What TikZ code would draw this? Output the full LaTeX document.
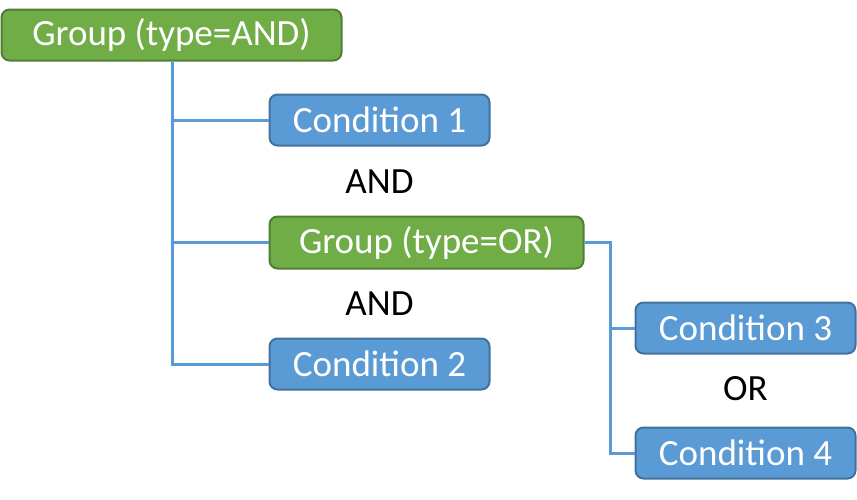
\documentclass[tikz,border=0pt]{standalone}
\usepackage{fontspec}
\setmainfont{Carlito}
\definecolor{gfill}{HTML}{70AD47}
\definecolor{gdraw}{HTML}{507E32}
\definecolor{bfill}{HTML}{5B9BD5}
\definecolor{bdraw}{HTML}{41719C}
\begin{document}
\begin{tikzpicture}[x=1pt,y=-1pt,
  box/.style={rectangle,rounded corners=8pt,line width=2pt,text=white,inner sep=0pt,
    font=\fontsize{37}{44}\selectfont},
  gbox/.style={box,fill=gfill,draw=gdraw},
  bbox/.style={box,fill=bfill,draw=bdraw},
  lbl/.style={font=\fontsize{37}{44}\selectfont,text=black,inner sep=0pt},
  conn/.style={draw=bfill,line width=3pt}]
\useasboundingbox (0,0) rectangle (857,499);
\node[gbox,minimum width=340pt,minimum height=51pt] (g1) at (171.5,35) {Group (type=AND)};
\node[bbox,minimum width=220pt,minimum height=51pt] (c1) at (379.5,120) {Condition 1};
\node[lbl] (and1) at (379.5,182) {AND};
\node[gbox,minimum width=314pt,minimum height=52pt] (g2) at (426.5,242.5) {Group (type=OR)};
\node[lbl] (and2) at (379.5,304) {AND};
\node[bbox,minimum width=220pt,minimum height=51pt] (c2) at (379.5,364) {Condition 2};
\node[bbox,minimum width=220pt,minimum height=51pt] (c3) at (745.5,328) {Condition 3};
\node[lbl] (or1) at (745.5,389) {OR};
\node[bbox,minimum width=220pt,minimum height=51pt] (c4) at (745.5,453) {Condition 4};
\coordinate (v1) at (172,0);
\coordinate (v2) at (610,0);
\draw[conn] (g1.south -| v1) |- (c2.west);
\draw[conn] (c1.west) -- (c1.west -| v1);
\draw[conn] (g2.west) -- (g2.west -| v1);
\draw[conn] (g2.east) -- (g2.east -| v2) |- (c4.west);
\draw[conn] (c3.west) -- (c3.west -| v2);
\end{tikzpicture}
\end{document}
